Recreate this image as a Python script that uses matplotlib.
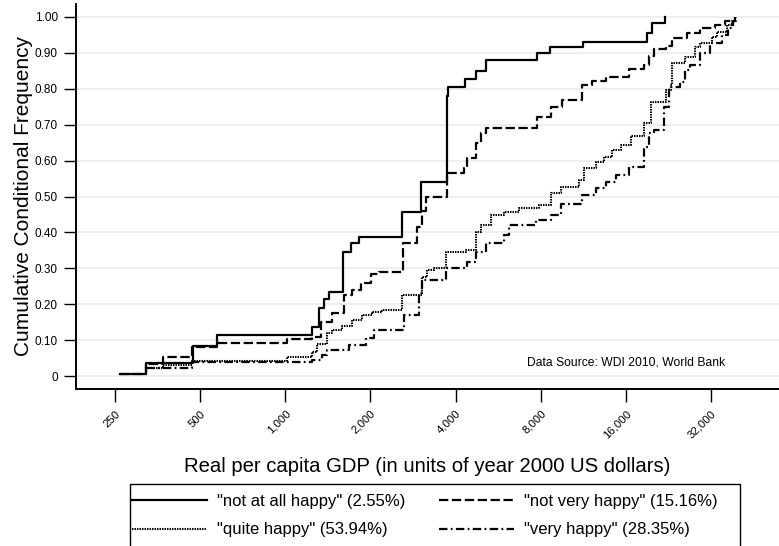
import numpy as np
import matplotlib.pyplot as plt
from matplotlib.patches import Rectangle
from matplotlib.ticker import FixedLocator, NullLocator

plt.rcParams['font.family'] = ['Liberation Sans', 'DejaVu Sans']

# Real per capita GDP (year 2000 US$) at each step, and cumulative frequency after it
gdp_not_at_all = [260, 321, 472, 574, 1246, 1320, 1374, 1432, 1605, 1713, 1829,
                  2588, 3017, 3720, 3750, 4305, 4708, 5108, 7744, 8610, 11267,
                  19027, 19825, 22075]
cf_not_at_all = [0.005, 0.036, 0.083, 0.114, 0.136, 0.19, 0.214, 0.234, 0.345, 0.37, 0.387,
                 0.457, 0.54, 0.78, 0.805, 0.827, 0.85, 0.88, 0.90, 0.916, 0.93,
                 0.955, 0.983, 1.0]

gdp_not_very = [260, 321, 371, 469, 574, 1017, 1246, 1341, 1467, 1618, 1727, 1858,
                2016, 2150, 2610, 2922, 3042, 3141, 3720, 4270, 4377, 4708, 4905, 5108,
                7744, 8680, 9494, 11175, 12126, 13594, 16400, 18560, 19345, 20160,
                22258, 23390, 26250, 29220, 33060, 35870, 38910]
cf_not_very = [0.005, 0.033, 0.053, 0.08, 0.092, 0.103, 0.11, 0.15, 0.175, 0.225, 0.24, 0.26,
               0.284, 0.29, 0.37, 0.415, 0.46, 0.5, 0.565, 0.58, 0.607, 0.65, 0.676, 0.69,
               0.72, 0.75, 0.77, 0.81, 0.822, 0.833, 0.855, 0.866, 0.89, 0.91,
               0.92, 0.94, 0.955, 0.97, 0.978, 0.99, 1.0]

gdp_quite = [321, 371, 469, 1017, 1246, 1298, 1408, 1467, 1592, 1727, 1874, 2032, 2204,
             2588, 3042, 3166, 3350, 3690, 4340, 4708, 4905, 5322, 5917, 6686, 7868,
             8680, 9416, 10904, 11360, 12528, 13376, 14272, 15360, 16670, 18560, 19664,
             22258, 23200, 23390, 25810, 28050, 29220, 32260, 33600, 36450, 37980, 38910]
cf_quite = [0.022, 0.03, 0.042, 0.053, 0.067, 0.09, 0.12, 0.128, 0.14, 0.156, 0.17, 0.178, 0.183,
            0.225, 0.276, 0.295, 0.30, 0.345, 0.35, 0.40, 0.42, 0.448, 0.457, 0.468, 0.476,
            0.51, 0.527, 0.546, 0.58, 0.596, 0.61, 0.63, 0.643, 0.668, 0.705, 0.763,
            0.797, 0.81, 0.872, 0.889, 0.916, 0.927, 0.944, 0.958, 0.978, 0.99, 1.0]

gdp_very = [321, 469, 1246, 1352, 1408, 1685, 1936, 2066, 2630, 2968, 3042, 3690, 4377,
            4708, 5108, 5917, 6164, 7680, 8680, 9416, 11175, 12528, 13594, 14744, 16400,
            18560, 19345, 20160, 21888, 22816, 24784, 25810, 26910, 29220, 31744, 35008,
            36768, 38300, 39230]
cf_very = [0.022, 0.039, 0.045, 0.058, 0.072, 0.086, 0.106, 0.128, 0.17, 0.23, 0.268, 0.30, 0.318,
           0.345, 0.37, 0.393, 0.42, 0.435, 0.448, 0.48, 0.504, 0.524, 0.54, 0.56, 0.582,
           0.638, 0.677, 0.685, 0.75, 0.805, 0.82, 0.852, 0.866, 0.90, 0.927, 0.95,
           0.97, 0.99, 1.0]

labels = ['"not at all happy" (2.55%)', '"not very happy" (15.16%)',
          '"quite happy" (53.94%)', '"very happy" (28.35%)']

x_ticks = [250, 500, 1000, 2000, 4000, 8000, 16000, 32000]
y_ticks = [0, 0.1, 0.2, 0.3, 0.4, 0.5, 0.6, 0.7, 0.8, 0.9, 1.0]
y_ticklabels = ['0', '0.10', '0.20', '0.30', '0.40', '0.50', '0.60', '0.70', '0.80', '0.90', '1.00']

fig = plt.figure(figsize=(7.79, 5.46), dpi=100)
ax = fig.add_axes([76 / 779, 1 - 389 / 546, 1 - 76 / 779, 385 / 546])

series = [
    (gdp_not_at_all, cf_not_at_all, dict(linestyle='-', linewidth=1.6)),
    (gdp_not_very, cf_not_very, dict(linestyle=(0, (4.2, 1.6)), linewidth=1.6)),
    (gdp_quite, cf_quite, dict(linestyle=(0, (0.7, 0.5)), linewidth=1.5)),
    (gdp_very, cf_very, dict(linestyle=(0, (3.8, 1.5, 0.8, 1.5)), linewidth=1.6)),
]
handles = []
for (x, y, style), lab in zip(series, labels):
    h, = ax.plot(x, y, drawstyle='steps-post', color='black', label=lab, **style)
    handles.append(h)

ax.set_xscale('log', base=2)
ax.set_xlim(182, 55700)
ax.set_ylim(-0.036, 1.036)
ax.xaxis.set_major_locator(FixedLocator(x_ticks))
ax.xaxis.set_minor_locator(NullLocator())
ax.set_xticklabels([f'{v:,}' for v in x_ticks], rotation=45, ha='right',
                   rotation_mode='anchor', fontsize=8.2)
ax.set_yticks(y_ticks)
ax.set_yticklabels(y_ticklabels, fontsize=8.5)
ax.tick_params(axis='both', direction='out', length=9, width=1, color='black')
ax.tick_params(axis='y', pad=4)
ax.tick_params(axis='x', pad=5)

ax.yaxis.grid(True, color='#e6eeee', linewidth=1.2)
ax.set_axisbelow(True)
for side in ['top', 'right']:
    ax.spines[side].set_visible(False)
for side in ['left', 'bottom']:
    ax.spines[side].set_linewidth(1.4)

ax.set_ylabel('Cumulative Conditional Frequency', fontsize=15, labelpad=1)
ax.set_xlabel('Real per capita GDP (in units of year 2000 US dollars)', fontsize=14.6, labelpad=12)

ax.text(0.642, 0.068, 'Data Source: WDI 2010, World Bank', transform=ax.transAxes,
        fontsize=8.7, ha='left', va='center')

# legend: filled row by row like the original, box runs off the bottom edge
order = [0, 2, 1, 3]
fig.legend(handles=[handles[i] for i in order], labels=[labels[i] for i in order],
           loc='upper left', bbox_to_anchor=(132 / 779, 1 - 494 / 546),
           ncol=2, fontsize=12, frameon=False, borderaxespad=0, borderpad=0,
           handlelength=4.5, handletextpad=0.62, columnspacing=2.0,
           labelspacing=0.8)
fig.patches.append(Rectangle((130 / 779, -0.05), (740 - 130) / 779, 0.05 + 1 - 484 / 546,
                             transform=fig.transFigure, fill=False,
                             edgecolor='black', linewidth=1.0))

fig.savefig('out.png', dpi=100)
